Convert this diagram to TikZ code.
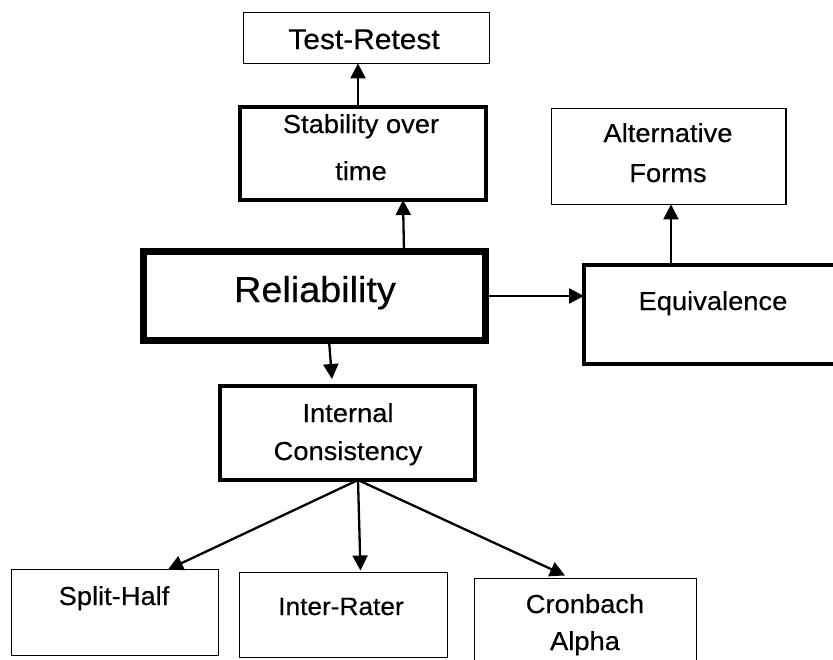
\documentclass[tikz,border=0pt]{standalone}
\usepackage{fontspec}
\setmainfont{Liberation Sans}[FakeStretch=1.05, FakeBold=0.4]
\usetikzlibrary{arrows.meta}

\tikzset{
  box/.style={draw=black, fill=white, rectangle, inner sep=0pt, outer sep=0pt},
  thinbox/.style={box, line width=1.2pt},
  thickbox/.style={box, line width=4pt},
  heavybox/.style={box, line width=7pt},
  lbl/.style={inner sep=0pt, anchor=base, align=center, text=black},
  std/.style={font=\fontsize{26}{40}\selectfont},
  link/.style={draw=black, line width=2.3pt, -{Triangle[length=15pt,width=15pt]}},
}

\begin{document}
\begin{tikzpicture}[x=1pt, y=-1pt]
  \useasboundingbox (0,0) rectangle (833,659);
  \clip (0,0) rectangle (833,659);
  \fill[white] (0,0) rectangle (833,659);

  % boxes
  \node[thinbox,  minimum width=245.8pt, minimum height=50.8pt] (tr)   at (366.5,38)    {};
  \node[thickbox, minimum width=246pt,   minimum height=93pt]   (stab) at (363,153.5)   {};
  \node[heavybox, minimum width=342pt,   minimum height=89pt]   (rel)  at (314.5,296)   {};
  \node[thickbox, minimum width=316pt,   minimum height=99pt]   (eq)   at (742,314.5)   {};
  \node[thinbox,  minimum width=234.8pt, minimum height=95.8pt] (alt)  at (668.5,156.5) {};
  \node[thickbox, minimum width=255pt,   minimum height=94pt]   (ic)   at (347.5,433)   {};
  \node[thinbox,  minimum width=207pt,   minimum height=86pt]   (sh)   at (115,612.5)   {};
  \node[thinbox,  minimum width=208pt,   minimum height=85pt]   (ir)   at (343.5,615)   {};
  \node[thinbox,  minimum width=222pt,   minimum height=121pt]  (cr)   at (585.5,639)   {};

  % labels (placed on the baseline of their last line)
  \node[lbl, font=\fontsize{28.5}{40}\selectfont] (trt) at (364,49) {Test-Retest};
  \node[lbl, font=\fontsize{26}{47}\selectfont] (stabt) at (361,180) {Stability over\\time};
  \node[lbl, font=\fontsize{36}{44}\selectfont] (relt)  at (315,302) {Reliability};
  \node[lbl, std] (eqt)  at (713,310) {Equivalence};
  \node[lbl, font=\fontsize{26}{40}\selectfont] (altt)  at (668,182) {Alternative\\Forms};
  \node[lbl, font=\fontsize{26}{38}\selectfont] (ict)   at (348,460) {Internal\\Consistency};
  \node[lbl, std] (sht)  at (114,605) {Split-Half};
  \node[lbl, font=\fontsize{25}{40}\selectfont] (irt)  at (341,615) {Inter-Rater};
  \node[lbl, font=\fontsize{26}{37}\selectfont] (crt)   at (585,650) {Cronbach\\Alpha};

  % connectors
  \draw[link] ([xshift=-5pt]stab.north) -- ([xshift=-8.5pt]tr.south);
  \draw[link] ([xshift=89.5pt]rel.north) -- ([xshift=40pt]stab.south);
  \draw[link] (rel.east) -- (rel.east -| eq.west);
  \draw[link] ([xshift=14.5pt]rel.south) -- ([xshift=-15.5pt,yshift=7pt]ic.north);
  \draw[link] ([xshift=-71pt]eq.north) -- ([xshift=2.5pt]alt.south);
  \draw[link] ([xshift=10.5pt]ic.south) -- ([xshift=53pt]sh.north);
  \draw[link] ([xshift=10.5pt]ic.south) -- ([xshift=17pt,yshift=2pt]ir.north);
  \draw[link] ([xshift=10.5pt]ic.south) -- ([xshift=-20.5pt,yshift=3pt]cr.north);
\end{tikzpicture}
\end{document}
